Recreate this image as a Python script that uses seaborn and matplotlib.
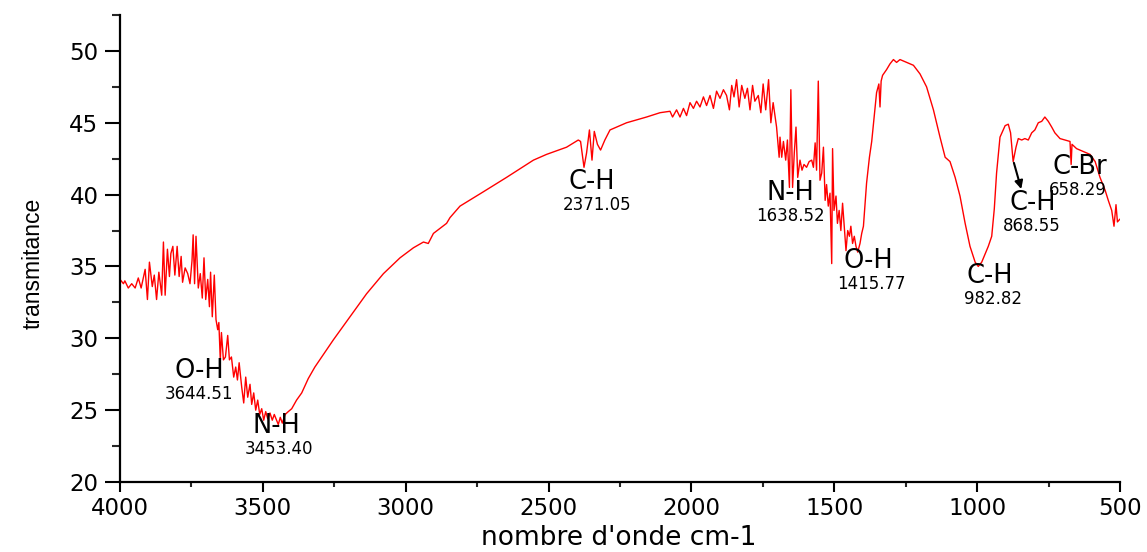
import numpy as np
import pandas as pd
import matplotlib
matplotlib.use("Agg")
import matplotlib.pyplot as plt
import seaborn as sns
from matplotlib.ticker import MultipleLocator

# --- spectre IR (nombre d'onde cm-1, transmittance) ---
wavenumber = [
    4000, 3988, 3983, 3971, 3959, 3947, 3936, 3926, 3912, 3904, 3897, 3887, 3880, 3872, 3864, 3854,
    3848, 3842, 3834, 3827, 3822, 3815, 3808, 3800, 3793, 3786, 3781, 3772, 3763, 3755, 3748, 3744,
    3739, 3734, 3726, 3719, 3712, 3706, 3700, 3693, 3687, 3683, 3677, 3670, 3664, 3658, 3654, 3649,
    3645, 3638, 3631, 3623, 3617, 3610, 3602, 3595, 3589, 3583, 3574, 3567, 3560, 3553, 3545, 3539,
    3532, 3525, 3518, 3511, 3504, 3497, 3490, 3483, 3475, 3467, 3460, 3452, 3446, 3439, 3432, 3422,
    3411, 3399, 3382, 3364, 3341, 3318, 3253, 3195, 3137, 3078, 3020, 2973, 2938, 2921, 2903, 2857,
    2845, 2810, 2728, 2647, 2553, 2507, 2437, 2396, 2388, 2376, 2367, 2357, 2348, 2340, 2329, 2318,
    2303, 2285, 2227, 2157, 2110, 2075, 2066, 2052, 2040, 2028, 2017, 2005, 1993, 1982, 1970, 1958,
    1947, 1935, 1923, 1912, 1900, 1888, 1877, 1867, 1859, 1851, 1842, 1833, 1824, 1813, 1804, 1795,
    1786, 1778, 1766, 1757, 1749, 1740, 1730, 1722, 1714, 1702, 1693, 1690, 1684, 1678, 1670, 1664,
    1657, 1652, 1646, 1640, 1634, 1628, 1620, 1613, 1606, 1597, 1588, 1579, 1573, 1567, 1562, 1556,
    1550, 1544, 1538, 1532, 1527, 1521, 1515, 1509, 1506, 1501, 1494, 1489, 1483, 1477, 1471, 1465,
    1459, 1453, 1447, 1442, 1436, 1430, 1424, 1418, 1410, 1404, 1398, 1392, 1387, 1377, 1369, 1360,
    1352, 1344, 1340, 1336, 1331, 1317, 1305, 1293, 1282, 1270, 1247, 1223, 1200, 1177, 1153, 1130,
    1112, 1095, 1077, 1060, 1042, 1025, 1007, 996, 984, 961, 949, 940, 932, 920, 902, 891,
    883, 874, 864, 856, 844, 833, 821, 809, 798, 786, 774, 763, 751, 739, 728, 710,
    693, 675, 671, 668, 652, 629, 605, 587, 570, 552, 541, 529, 521, 514, 509, 500,
]
transmittance = [
    34.1, 33.8, 34.0, 33.5, 33.8, 33.5, 34.2, 33.5, 34.8, 32.7, 35.3, 33.6, 34.4, 32.7, 34.6, 33.0,
    36.7, 33.0, 36.2, 34.3, 35.9, 36.4, 34.4, 36.4, 34.3, 35.7, 33.9, 34.9, 34.5, 33.8, 35.4, 37.2,
    33.8, 37.1, 33.5, 34.5, 32.8, 35.6, 32.7, 34.1, 32.2, 34.6, 31.5, 34.4, 31.3, 30.6, 31.1, 28.5,
    30.4, 28.5, 28.7, 30.2, 28.5, 28.7, 27.3, 28.0, 27.1, 28.3, 26.6, 25.5, 27.3, 25.9, 26.8, 25.4,
    26.2, 25.0, 25.7, 24.7, 25.1, 24.3, 24.9, 24.4, 24.8, 24.3, 24.7, 24.3, 24.0, 24.5, 24.1, 24.7,
    24.9, 25.1, 25.7, 26.2, 27.2, 28.0, 29.9, 31.5, 33.1, 34.5, 35.6, 36.3, 36.7, 36.6, 37.3, 38.0,
    38.4, 39.2, 40.2, 41.2, 42.4, 42.8, 43.3, 43.8, 43.7, 41.9, 42.9, 44.5, 42.4, 44.4, 43.5, 43.1,
    43.8, 44.5, 45.0, 45.4, 45.7, 45.8, 45.4, 45.9, 45.4, 46.0, 45.5, 46.4, 46.0, 46.5, 46.1, 46.8,
    46.2, 46.9, 46.0, 47.2, 46.7, 47.3, 46.9, 45.9, 47.6, 46.8, 48.0, 46.1, 47.6, 46.7, 47.4, 45.9,
    47.6, 46.5, 46.9, 45.7, 47.7, 45.9, 48.0, 45.0, 46.4, 44.7, 42.6, 44.0, 42.6, 43.7, 42.4, 43.8,
    40.5, 47.3, 40.5, 42.9, 44.7, 41.2, 42.4, 41.7, 42.1, 41.9, 42.3, 42.4, 41.9, 43.6, 41.7, 47.9,
    41.0, 41.5, 43.3, 39.6, 40.7, 39.2, 40.1, 35.2, 43.2, 38.9, 39.9, 38.0, 38.9, 37.5, 39.4, 37.8,
    36.1, 37.5, 37.1, 37.8, 36.6, 37.1, 36.4, 36.0, 36.6, 37.3, 37.8, 39.4, 40.8, 42.6, 43.7, 45.5,
    47.1, 47.7, 46.1, 47.9, 48.3, 48.7, 49.1, 49.4, 49.2, 49.4, 49.2, 49.0, 48.4, 47.5, 45.9, 44.0,
    42.6, 42.3, 41.2, 39.9, 38.0, 36.4, 35.3, 35.0, 35.3, 36.4, 37.1, 39.0, 41.5, 44.0, 44.8, 44.9,
    44.3, 42.3, 43.3, 43.9, 43.8, 43.9, 43.8, 44.3, 44.5, 45.0, 45.1, 45.4, 45.1, 44.7, 44.3, 43.9,
    43.8, 43.7, 42.1, 43.5, 43.2, 43.0, 42.8, 42.3, 41.2, 40.3, 39.6, 38.9, 37.8, 39.3, 38.1, 38.3,
]

# --- attributions des bandes ---
band_names = ["O-H", "N-H", "C-H", "N-H", "O-H", "C-H", "C-H", "C-Br"]
band_values = ["3644.51", "3453.40", "2371.05", "1638.52", "1415.77", "982.82", "868.55", "658.29"]
name_x = [3722, 3454, 2349, 1655, 1381, 955, 806, 640]
name_y = [27.7, 23.9, 40.9, 40.1, 35.4, 34.35, 39.45, 41.95]
value_x = [3722, 3442, 2329, 1655, 1369, 943, 809, 646]
value_y = [26.1, 22.3, 39.3, 38.5, 33.8, 32.75, 37.85, 40.35]

df = pd.DataFrame({"wavenumber": wavenumber, "transmittance": transmittance})

sns.set_style("ticks")
plt.rcParams["font.family"] = ["DejaVu Sans"]
plt.rcParams["text.color"] = "black"
plt.rcParams["axes.labelcolor"] = "black"

fig = plt.figure(figsize=(11.47, 5.52), dpi=100)
ax = fig.add_axes([120 / 1147, 70 / 552, 1000 / 1147, 467 / 552])

sns.lineplot(data=df, x="wavenumber", y="transmittance", ax=ax,
             color="#ff0000", linewidth=1.0, estimator=None)

ax.set_xlim(4000, 500)
ax.set_ylim(20, 52.5)
ax.xaxis.set_major_locator(MultipleLocator(500))
ax.xaxis.set_minor_locator(MultipleLocator(250))
ax.yaxis.set_major_locator(MultipleLocator(5))
ax.yaxis.set_minor_locator(MultipleLocator(2.5))
sns.despine(ax=ax)
for side in ["left", "bottom"]:
    ax.spines[side].set_linewidth(1.6)
    ax.spines[side].set_color("black")

ax.tick_params(axis="y", which="major", length=10.5, width=1.5, pad=5, labelsize=16.5, colors="black")
ax.tick_params(axis="y", which="minor", length=5.5, width=1.5)
ax.tick_params(axis="x", which="major", length=7, width=1.5, pad=4, labelsize=16.5, colors="black")
ax.tick_params(axis="x", which="minor", length=3.6, width=1.5)

ax.set_xlabel("nombre d'onde cm-1", fontsize=19)
ax.xaxis.set_label_coords(0.499, -0.092)
ax.set_ylabel("transmitance", fontsize=16.5, family=["Liberation Sans", "DejaVu Sans"])
ax.yaxis.set_label_coords(-0.075, 0.469)

for i in range(len(band_names)):
    ax.text(name_x[i], name_y[i], band_names[i], fontsize=18.5, ha="center", va="center")
    ax.text(value_x[i], value_y[i], band_values[i], fontsize=12, ha="center", va="center")

ax.annotate("", xy=(843, 40.2), xytext=(874, 42.4),
            arrowprops=dict(arrowstyle="-|>", color="black", lw=1.5, mutation_scale=12))

fig.savefig("out.png", dpi=100)
